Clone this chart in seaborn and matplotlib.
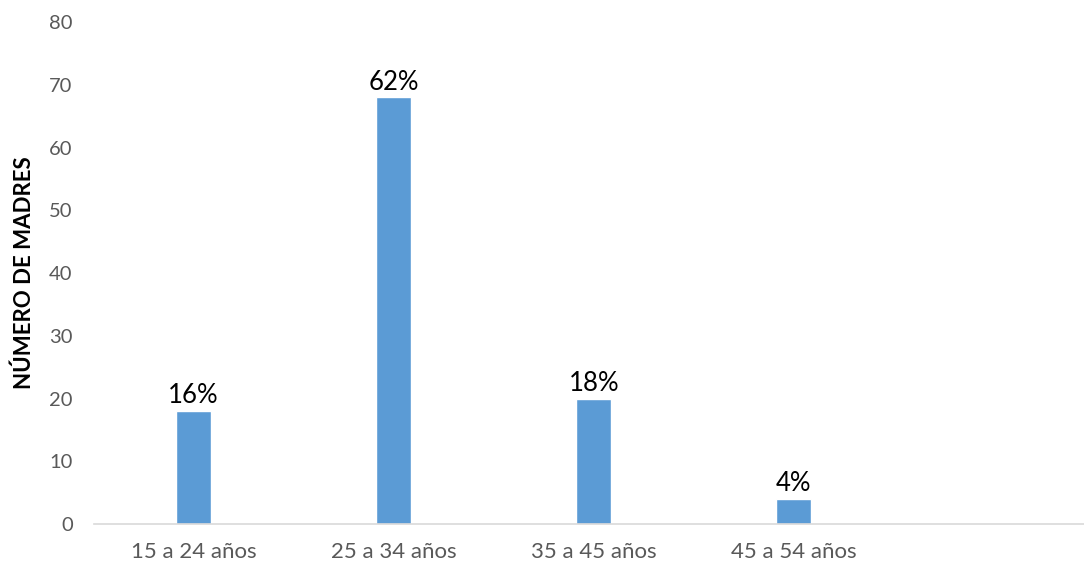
import matplotlib
matplotlib.use("Agg")
import matplotlib.pyplot as plt
import seaborn as sns
import pandas as pd

categories = ["15 a 24 años", "25 a 34 años", "35 a 45 años", "45 a 54 años"]
values = [18, 68, 20, 4]
labels = ["16%", "62%", "18%", "4%"]
yticks = [0, 10, 20, 30, 40, 50, 60, 70, 80]

sns.set_style("white")
plt.rcParams['font.family'] = ['Lato', 'DejaVu Sans']

df = pd.DataFrame({"cat": categories, "val": values})
fig = plt.figure(figsize=(10.84, 5.67), dpi=100)
ax = fig.add_axes([93.5 / 1084, 43 / 567, 1 - 93.5 / 1084, (524 - 22) / 567])
sns.barplot(data=df, x="cat", y="val", color="#5B9BD5", width=0.175, ax=ax, saturation=1)
ax.set_xlim(-0.5, 4.45)
ax.set_ylim(0, 80)
ax.set_yticks(yticks)
ax.tick_params(axis="both", length=0, labelcolor="#595959")
ax.tick_params(axis="x", pad=13, labelsize=16)
ax.tick_params(axis="y", pad=15, labelsize=14.5)
for s in ["top", "right", "left"]:
    ax.spines[s].set_visible(False)
ax.spines["bottom"].set_color("#D9D9D9")
ax.spines["bottom"].set_linewidth(1.2)
ax.set_xlabel("")
ax.set_ylabel("NÚMERO DE MADRES", fontsize=16, fontweight="bold", color="black", labelpad=10)
for i, (v, t) in enumerate(zip(values, labels)):
    ax.annotate(t, (i, v), xytext=(0, 2), textcoords="offset points", ha="center", va="bottom", fontsize=18.5, color="black")
fig.savefig("out.png", dpi=100)
